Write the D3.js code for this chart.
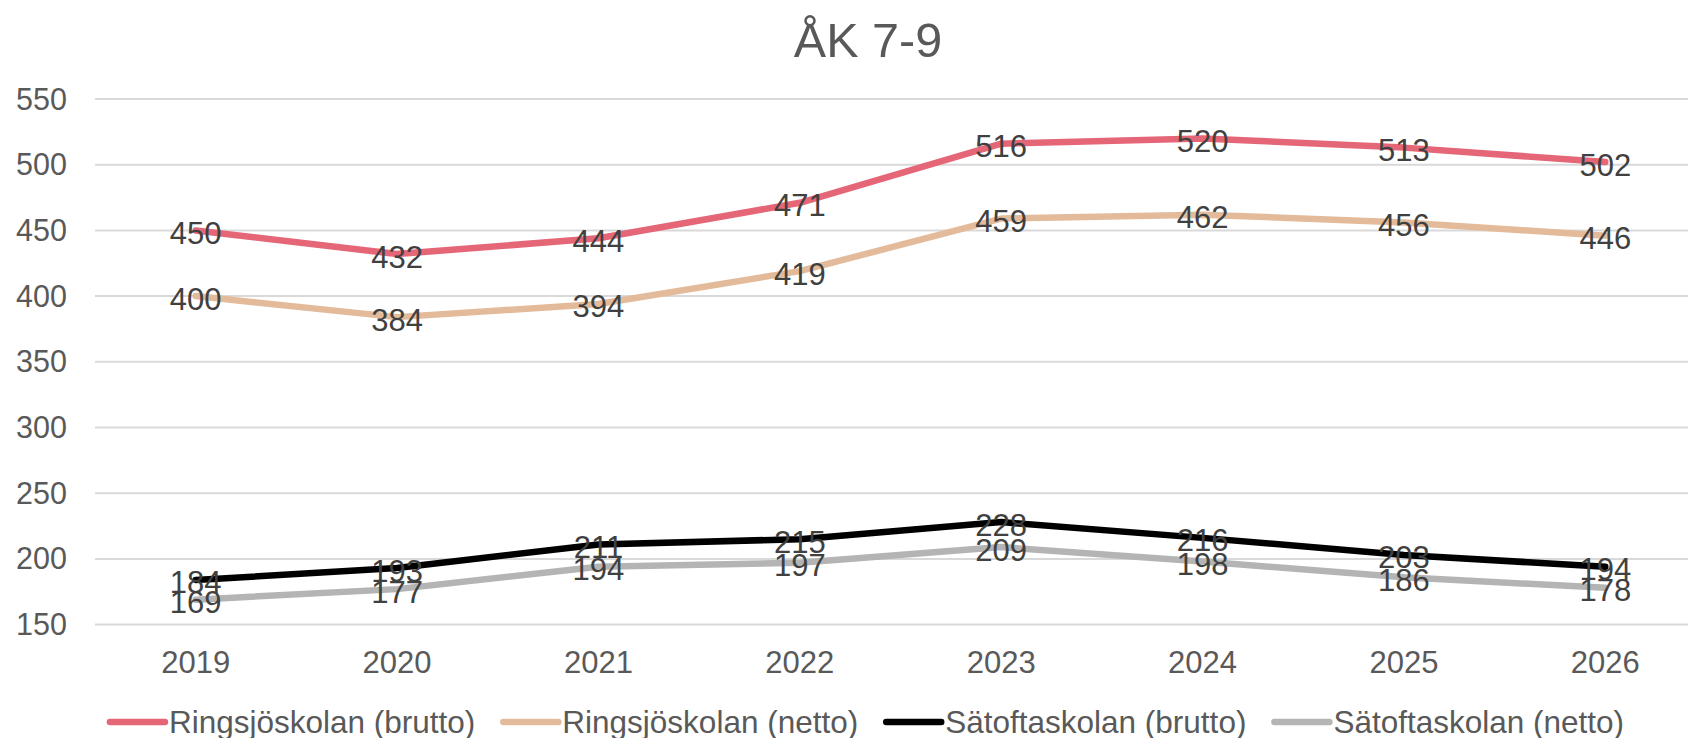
<!DOCTYPE html>
<html>
<head>
<meta charset="utf-8">
<script src="https://cdn.jsdelivr.net/npm/d3@7"></script>
<style>
  html, body { margin: 0; padding: 0; background: #fff; }
  svg { display: block; font-family: "Liberation Sans", Arial, sans-serif; }
</style>
</head>
<body>
<svg id="chart" width="1688" height="738"></svg>
<script>
const title = "ÅK 7-9";
const years = ["2019", "2020", "2021", "2022", "2023", "2024", "2025", "2026"];
const yTicks = [150, 200, 250, 300, 350, 400, 450, 500, 550];
const seriesNames = ["Ringsjöskolan (brutto)", "Ringsjöskolan (netto)", "Sätoftaskolan (brutto)", "Sätoftaskolan (netto)"];
const seriesColors = ["#E46677", "#E3BB9B", "#000000", "#B4B4B4"];
const ringsjoBrutto = [450, 432, 444, 471, 516, 520, 513, 502];
const ringsjoNetto = [400, 384, 394, 419, 459, 462, 456, 446];
const satoftaBrutto = [184, 193, 211, 215, 228, 216, 203, 194];
const satoftaNetto = [169, 177, 194, 197, 209, 198, 186, 178];
const seriesValues = [ringsjoBrutto, ringsjoNetto, satoftaBrutto, satoftaNetto];

const W = 1688, H = 738;
const svg = d3.select("#chart");

const x = d3.scalePoint().domain(years).range([95, 1706]).padding(0.5);
const y = d3.scaleLinear().domain([150, 550]).range([624.6, 99]);

// gridlines
svg.append("g").selectAll("line").data(yTicks).join("line")
  .attr("x1", 95).attr("x2", W)
  .attr("y1", d => y(d)).attr("y2", d => y(d))
  .attr("stroke", "#D9D9D9").attr("stroke-width", 2);

// y axis labels
svg.append("g").selectAll("text").data(yTicks).join("text")
  .attr("x", 67).attr("y", d => y(d) + 10.5)
  .attr("text-anchor", "end")
  .attr("font-size", 30.5).attr("fill", "#595959")
  .text(d => d);

// x axis labels
svg.append("g").selectAll("text").data(years).join("text")
  .attr("x", d => x(d)).attr("y", 673)
  .attr("text-anchor", "middle")
  .attr("font-size", 31).attr("fill", "#595959")
  .text(d => d);

// title
svg.append("text").attr("x", 868).attr("y", 57)
  .attr("text-anchor", "middle").attr("font-size", 48.5).attr("fill", "#595959")
  .text(title);

// lines
const line = d3.line().x((d, i) => x(years[i])).y(d => y(d));
seriesValues.forEach((vals, si) => {
  svg.append("path").datum(vals)
    .attr("d", line)
    .attr("fill", "none")
    .attr("stroke", seriesColors[si])
    .attr("stroke-width", 6.5)
    .attr("stroke-linejoin", "round")
    .attr("stroke-linecap", "round");
});

// data labels
seriesValues.forEach((vals, si) => {
  svg.append("g").selectAll("text").data(vals).join("text")
    .attr("x", (d, i) => x(years[i]))
    .attr("y", d => y(d) + 13.5)
    .attr("text-anchor", "middle")
    .attr("font-size", 31).attr("fill", "#404040")
    .text(d => d);
});

// legend
const legend = svg.append("g");
const lineLen = 55, gapText = 4, gapItem = 28, legY = 722, legCenter = 867;
const items = seriesNames.map((name, i) => {
  const g = legend.append("g");
  g.append("line").attr("x1", 0).attr("x2", lineLen).attr("y1", 0).attr("y2", 0)
    .attr("stroke", seriesColors[i]).attr("stroke-width", 6.5).attr("stroke-linecap", "round");
  const t = g.append("text").attr("x", lineLen + gapText).attr("y", 11)
    .attr("font-size", 31.5).attr("fill", "#595959").text(name);
  const w = lineLen + gapText + t.node().getComputedTextLength();
  return { g, w };
});
const total = d3.sum(items, d => d.w) + gapItem * (items.length - 1);
let cx = legCenter - total / 2;
items.forEach(it => {
  it.g.attr("transform", `translate(${cx},${legY})`);
  cx += it.w + gapItem;
});
</script>
</body>
</html>
